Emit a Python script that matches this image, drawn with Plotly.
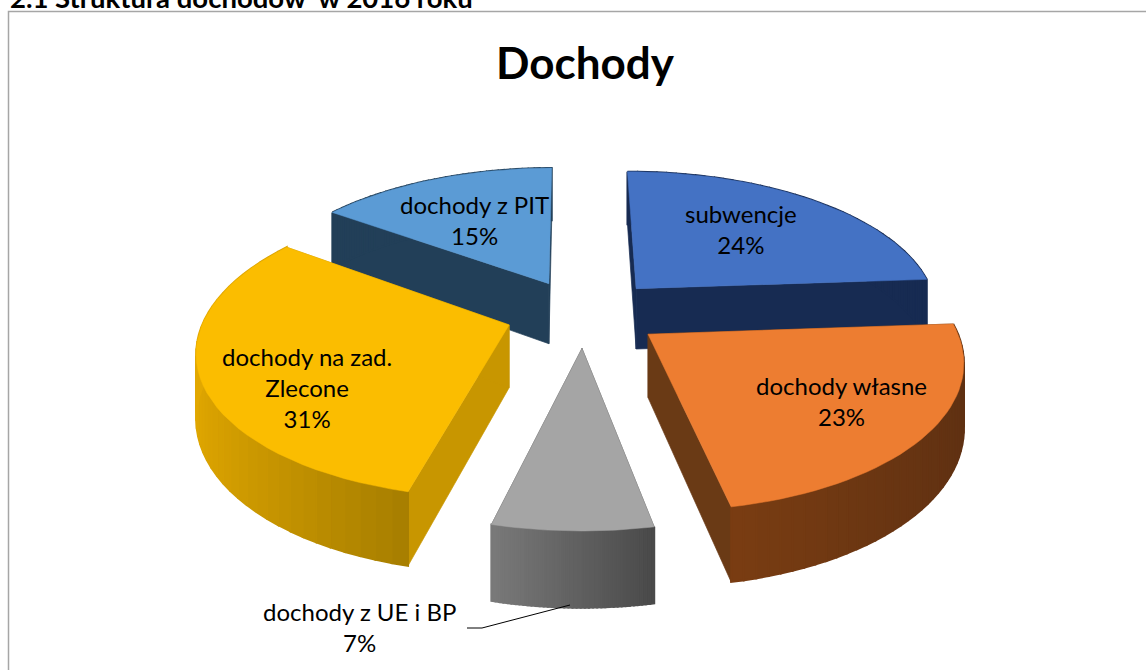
import numpy as np
import plotly.graph_objects as go

# ---- data ----
categories = ["subwencje", "dochody własne", "dochody z UE i BP", "dochody na zad. Zlecone", "dochody z PIT"]
label_lines = ["subwencje", "dochody własne", "dochody z UE i BP", "dochody na zad.<br>Zlecone", "dochody z PIT"]
values = [24, 23, 7, 31, 15]
top_colors = ["#4472C4", "#ED7D31", "#A5A5A5", "#FBBD00", "#5B9BD5"]
side_colors = ["#172B52", "#6A3A15", "#5A5A5A", "#C89600", "#223F58"]
wall_left = ["#172B52", "#7A3D12", "#7A7A7A", "#E2A800", "#223F58"]
wall_right = ["#172B52", "#5E3012", "#4A4A4A", "#A87F00", "#223F58"]
title_text = "Dochody"
heading_text = "2.1 Struktura dochodów  w 2016 roku"

# ---- projection of the tilted, exploded pie ----
CX, CY, RX, BY, K, EX, EY, DEPTH = 584, 313, 303, 142, 0.155, 0.26, 0.24, 62
ROTATION = np.deg2rad(-0.4)


def project(x, y, z=0.0):
    s = 1 / (1 - K * y)
    return CX + RX * x * s, CY + BY * y * s + DEPTH * z * s


def hex_mix(a, b, t):
    ca = [int(a[i:i + 2], 16) for i in (1, 3, 5)]
    cb = [int(b[i:i + 2], 16) for i in (1, 3, 5)]
    return "rgb({},{},{})".format(*[round(p + (q - p) * t) for p, q in zip(ca, cb)])


def poly(xs, ys, color, width=0.7):
    return go.Scatter(x=list(xs), y=list(ys), mode="lines", fill="toself", fillcolor=color,
                      line=dict(color=color, width=width), hoverinfo="skip", showlegend=False)


frac = np.array(values, dtype=float) / sum(values)
edges = np.concatenate([[0], np.cumsum(frac)]) * 2 * np.pi + ROTATION

fig = go.Figure()
slices = []
for i in range(len(values)):
    a0, a1 = edges[i], edges[i + 1]
    mid = (a0 + a1) / 2
    ox, oy = EX * np.sin(mid), -EY * np.cos(mid)
    th = np.linspace(a0, a1, 41)
    ax, ay = ox + np.sin(th), oy - np.cos(th)
    slices.append((i, ox, oy, ax, ay))

for i, ox, oy, ax, ay in [slices[4], slices[0], slices[3], slices[1], slices[2]]:
    # cut faces
    for ex, ey in ((ax[0], ay[0]), (ax[-1], ay[-1])):
        p = [project(ox, oy), project(ex, ey), project(ex, ey, 1), project(ox, oy, 1)]
        fig.add_trace(poly([q[0] for q in p] + [p[0][0]], [q[1] for q in p] + [p[0][1]], side_colors[i]))
    # outer wall, shaded from left to right
    for j in range(len(ax) - 1):
        p = [project(ax[j], ay[j]), project(ax[j + 1], ay[j + 1]),
             project(ax[j + 1], ay[j + 1], 1), project(ax[j], ay[j], 1)]
        t = (ax[j] - ax.min()) / (ax.max() - ax.min())
        fig.add_trace(poly([q[0] for q in p] + [p[0][0]], [q[1] for q in p] + [p[0][1]],
                           hex_mix(wall_left[i], wall_right[i], float(np.clip(t, 0, 1))), width=2))
    # top face
    tx, ty = project(np.concatenate([[ox], ax, [ox]]), np.concatenate([[oy], ay, [oy]]))
    fig.add_trace(poly(tx, ty, top_colors[i], width=0.5))

label_pos = [(741, 229), (841, 401), (359, 627), (307, 387), (474, 220)]
FONT = "Lato, Carlito, Calibri"
annotations = []
for i, (lx, ly) in enumerate(label_pos):
    annotations.append(dict(x=lx, y=ly, xref="x", yref="y", showarrow=False, align="center",
                            text=f"{label_lines[i]}<br>{values[i]}%",
                            font=dict(family=FONT, size=24, color="#000000")))
annotations.append(dict(x=585, y=62, xref="x", yref="y", showarrow=False, text=title_text,
                        font=dict(family=FONT, size=44, color="#000000", weight="bold")))
annotations.append(dict(x=8, y=1, xref="x", yref="paper", xanchor="left", yanchor="middle", yshift=3,
                        showarrow=False, text=heading_text,
                        font=dict(family=FONT, size=27.5, color="#000000", weight="bold")))

fig.update_layout(
    width=1146, height=670, margin=dict(l=0, r=0, t=0, b=0),
    paper_bgcolor="white", plot_bgcolor="white", showlegend=False,
    xaxis=dict(range=[0, 1146], visible=False, fixedrange=True),
    yaxis=dict(range=[670, 0], visible=False, fixedrange=True),
    annotations=annotations,
    shapes=[
        dict(type="path", path="M 8.5 700 L 8.5 11.5 L 1160 11.5", xref="x", yref="y",
             line=dict(color="#A6A6A6", width=1.5)),
        dict(type="path", path="M 467 628 L 482 628 L 570 605", xref="x", yref="y",
             line=dict(color="#000000", width=1)),
    ],
)
fig.write_html("out.html", config=dict(displayModeBar=False),
               post_script="document.body.style.margin='0';document.body.style.overflow='hidden';")
